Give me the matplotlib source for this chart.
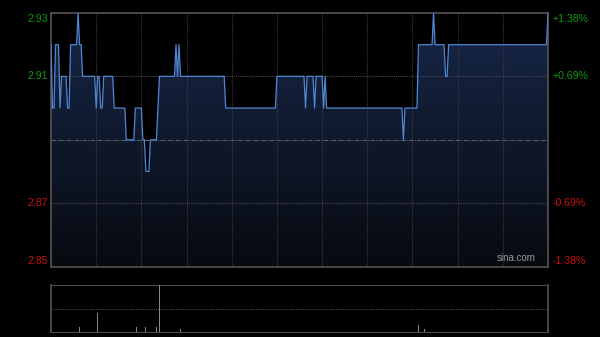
import numpy as np
import matplotlib.pyplot as plt
from matplotlib.colors import LinearSegmentedColormap

# intraday price as runs: (price level, number of minutes)
run_prices = [2.92, 2.90, 2.92, 2.90, 2.91, 2.90, 2.92, 2.93, 2.92, 2.91,
              2.90, 2.91, 2.90, 2.91, 2.90, 2.89, 2.90, 2.89, 2.88, 2.89,
              2.90, 2.91, 2.92, 2.91, 2.92, 2.91, 2.90, 2.91, 2.90, 2.91,
              2.90, 2.91, 2.90, 2.91, 2.90, 2.89, 2.90, 2.92, 2.93, 2.92,
              2.91, 2.92, 2.93]
run_lengths = [1, 2, 3, 1, 4, 2, 5, 1, 2, 9,
               1, 2, 2, 7, 8, 6, 5, 2, 3, 5,
               1, 11, 1, 1, 1, 30, 34, 19, 1, 5,
               1, 5, 1, 1, 51, 1, 9, 10, 1, 7,
               2, 66, 1]

prev_close = 2.89
left_labels = ["2.93", "2.91", "2.87", "2.85"]
left_values = [2.93, 2.91, 2.87, 2.85]
right_labels = ["+1.38%", "+0.69%", "-0.69%", "-1.38%"]

# volume: only the visible spikes (minute index, relative volume)
vol_minutes = [6, 19, 31, 57, 63, 70, 72, 83, 86, 244, 245, 248]
vol_values = [6, 11, 40, 11, 11, 11, 100, 8, 6, 15, 6, 6]

price = np.repeat(run_prices, run_lengths)
minutes = np.arange(len(price))
n_min = len(price) - 1
volume = np.zeros(len(price))
volume[vol_minutes] = vol_values

fig = plt.figure(figsize=(6, 3.37), dpi=100, facecolor="black")
ax = fig.add_axes([51 / 600, 1 - 266.5 / 337, 497 / 600, 253.5 / 337])
vax = fig.add_axes([51 / 600, 1 - 332 / 337, 497 / 600, 47 / 337])

ymin, ymax = 2.85, 2.93
ax.set_facecolor("black")
ax.set_xlim(0, n_min)
ax.set_ylim(ymin, ymax)

# gradient fill under the price line
cmap = LinearSegmentedColormap.from_list("fill", ["#070a10", "#18284a"])
grad = np.linspace(0, 1, 256).reshape(-1, 1)
im = ax.imshow(grad, cmap=cmap, aspect="auto", origin="lower",
               extent=[0, n_min, ymin, ymax], zorder=1)
poly = ax.fill_between(minutes, price, ymin, color="none", lw=0)
im.set_clip_path(poly.get_paths()[0], transform=ax.transData)

# grid
for m in range(30, n_min, 30):
    ax.axvline(m, color="#3a3a3a", lw=0.8, ls=(0, (1, 1)), zorder=2)
for v in [2.91, 2.87]:
    ax.axhline(v, color="#4a4a4a", lw=0.8, ls=(0, (1, 1)), zorder=2)
ax.axhline(prev_close, color="#5a6068", lw=0.8, ls=(0, (4, 1, 1, 1)), zorder=2)

ax.plot(minutes, price, color="#4f86d6", lw=0.9, zorder=3)

ax.set_xticks([])
ax.set_yticks([])
for s in ax.spines.values():
    s.set_color("#555555")
    s.set_linewidth(1.2)

ax.text(0.975, 0.015, "sina.com", transform=ax.transAxes, ha="right", va="bottom",
        color="#9a9a9a", fontsize=7, family="Liberation Sans", zorder=4)

# side labels (top one nudged down, bottom one nudged up, in pixels)
green, red = "#119911", "#cc1111"
offsets = [-5.5, 0, 0, 6]
for lab, rlab, val, off in zip(left_labels, right_labels, left_values, offsets):
    yp = (ax.transData.transform((0, val))[1] + off) / 337
    col = green if val > prev_close else red
    fig.text(48 / 600, yp, lab, ha="right", va="center", color=col,
             fontsize=7.6, family="Liberation Sans")
    fig.text(553 / 600, yp, rlab, ha="left", va="center", color=col,
             fontsize=7.6, family="Liberation Sans")

# volume panel
vax.set_facecolor("black")
vax.bar(minutes, volume, width=0.6, color="#888888", zorder=3)
vax.set_xlim(0, n_min)
vax.set_ylim(0, 100)
vax.axhline(50, color="#4a4a4a", lw=0.8, ls=(0, (1, 1)))
vax.set_xticks([])
vax.set_yticks([])
for side in ["top", "bottom"]:
    vax.spines[side].set_color("#4a4a4a")
    vax.spines[side].set_linestyle((0, (1, 1)))
for side in ["left", "right"]:
    vax.spines[side].set_color("#555555")
    vax.spines[side].set_linewidth(1.2)

fig.savefig("out.png", dpi=100, facecolor="black")
